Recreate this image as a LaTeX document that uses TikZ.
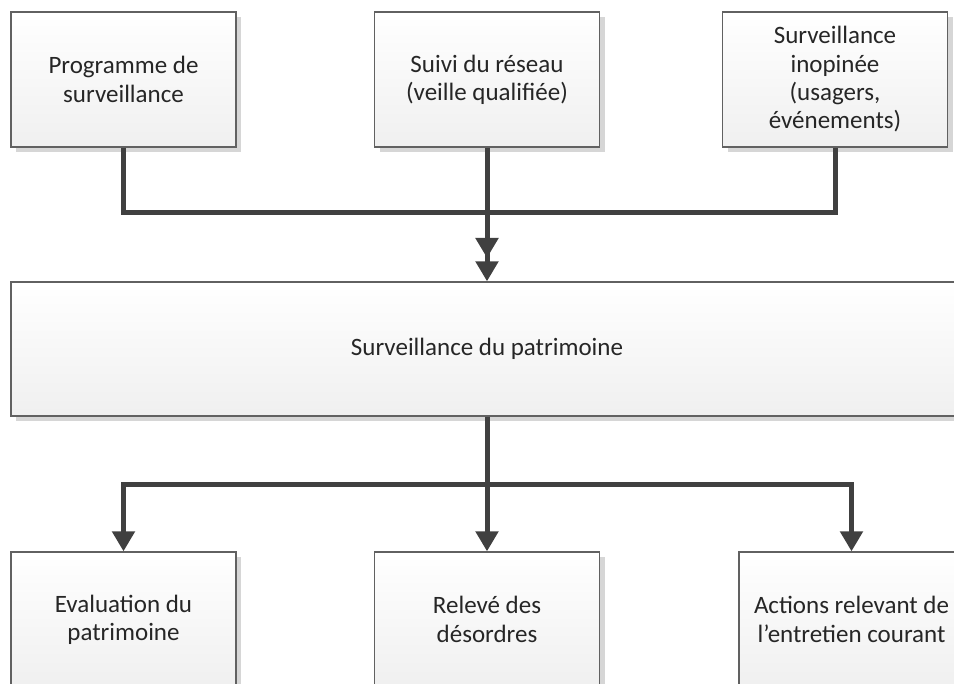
\documentclass[tikz,border=0pt]{standalone}
\usepackage{fontspec}
\setmainfont{Carlito}
\usetikzlibrary{arrows.meta,shadows}
\begin{document}
\begin{tikzpicture}[x=1pt,y=-1pt,
  box/.style={draw=black!62, line width=1.3pt, top color=white, bottom color=black!6,
    minimum width=225pt, minimum height=135pt, inner sep=0pt, align=center,
    font=\fontsize{25}{28.3}\selectfont, text=black!85,
    drop shadow={shadow xshift=5pt, shadow yshift=-5pt, fill=black!16, opacity=1}},
  conn/.style={draw=black!75, line width=5pt},
  arr/.style={conn, -{Triangle[length=20pt,width=22pt]}}
]
\useasboundingbox (0,0) rectangle (954,684);
% top row
\node[box] (b1) at (123.5,79.5) {Programme de\\surveillance};
\node[box] (b2) at (487,79.5) {Suivi du réseau\\(veille qualifiée)};
\node[box] (b3) at (835,79.5) {Surveillance\\inopinée\\(usagers,\\événements)};
% middle
\node[box, minimum width=952pt, minimum height=134pt] (mid) at (487,349) {Surveillance du patrimoine};
% bottom row
\node[box] (c1) at (123.5,619.5) {Evaluation du\\patrimoine};
\node[box] (c2) at (487,619.5) {Relevé des\\désordres};
\node[box] (c3) at (851.5,619.5) {Actions relevant de\\l’entretien courant};
% connectors top
\coordinate (j) at (487,213);
\coordinate (m1) at (487,258);
\draw[conn] (b1.south) |- (j);
\draw[conn] (b3.south) |- (j);
\draw[arr] (j) -- (m1);
\draw[arr] (b2.south) -- (mid.north);
% connectors bottom
\coordinate (k) at (487,485);
\draw[arr] (mid.south) -- (c2.north);
\draw[arr] (k) -| (c1.north);
\draw[arr] (k) -| (c3.north);
\end{tikzpicture}
\end{document}
